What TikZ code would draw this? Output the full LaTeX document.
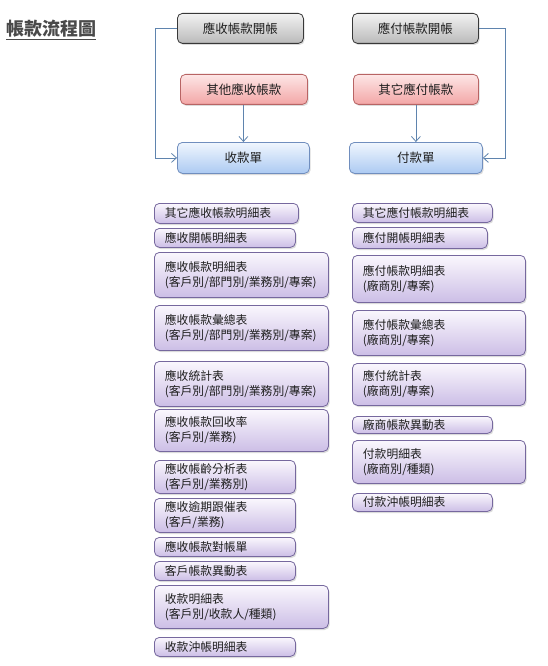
\documentclass[tikz,border=0pt]{standalone}
\usepackage{fontspec}
\setmainfont{Noto Sans CJK TC}
\usetikzlibrary{shadows,arrows.meta}
\definecolor{titlegray}{HTML}{4A4A4A}
\definecolor{linecol}{HTML}{5F84AE}
\definecolor{txt}{HTML}{1E1E1E}
\begin{document}
\begin{tikzpicture}[x=1pt,y=-1pt,
  base/.style={rounded corners=5pt, shading=axis, line width=0.8pt, text=txt,
    drop shadow={opacity=0.28, shadow xshift=1.2pt, shadow yshift=-1.6pt},
    anchor=north west, inner ysep=0pt},
  topbox/.style={base, font=\fontsize{12.5}{15}\selectfont, align=center, inner xsep=0pt},
  graybox/.style={topbox, top color=white!95!black, bottom color=black!27, draw=black!78},
  redbox/.style={topbox, top color={rgb,255:red,253;green,230;blue,230}, bottom color={rgb,255:red,243;green,166;blue,166}, draw={rgb,255:red,184;green,100;blue,100}},
  bluebox/.style={topbox, top color={rgb,255:red,240;green,246;blue,254}, bottom color={rgb,255:red,172;green,202;blue,242}, draw={rgb,255:red,112;green,142;blue,190}},
  listbox/.style={base, font=\fontsize{11.8}{15}\selectfont, align=left, inner xsep=10.5pt,
    top color={rgb,255:red,250;green,247;blue,253}, bottom color={rgb,255:red,204;green,190;blue,230},
    draw={rgb,255:red,118;green,104;blue,158}},
  conn/.style={draw=linecol, line width=0.8pt, -{Straight Barb[length=5pt,width=9pt]}}
]
\useasboundingbox (0,0) rectangle (548,666);
\fill[white] (0,0) rectangle (548,666);

% title
\node[font=\fontsize{18}{20}\selectfont\bfseries, text=titlegray, inner sep=0pt] (title) at (51,30) {\underline{帳款流程圖}};

% top boxes
\node[graybox, minimum width=126pt, minimum height=30pt] (aro) at (177,13) {應收帳款開帳};
\node[graybox, minimum width=126pt, minimum height=30pt] (apo) at (352,13) {應付帳款開帳};
\node[redbox, minimum width=127pt, minimum height=30pt] (aroth) at (180,74) {其他應收帳款};
\node[redbox, minimum width=125pt, minimum height=30pt] (apoth) at (353,74) {其它應付帳款};
\node[bluebox, minimum width=132pt, minimum height=31pt] (recv) at (177,142) {收款單};
\node[bluebox, minimum width=133pt, minimum height=31pt] (pay) at (349,142) {付款單};

\coordinate (lx) at (155,0);
\coordinate (rx) at (505,0);
\draw[conn] (aro.west) -- (aro.west -| lx) |- (recv.west);
\draw[conn] (apo.east) -- (apo.east -| rx) |- (pay.east);
\draw[conn] (aroth.south -| recv.north) -- (recv.north);
\draw[conn] (apoth.south) -- (apoth.south |- pay.north);

% left list
\node[listbox, text width=123pt, minimum height=20pt] (l1) at (154,203) {其它應收帳款明細表};
\node[listbox, text width=120pt, minimum height=19pt] (l2) at (154,228) {應收開帳明細表};
\node[listbox, text width=153pt, minimum height=45pt] (l3) at (154,252) {應收帳款明細表\\(客戶別/部門別/業務別/專案)};
\node[listbox, text width=153pt, minimum height=45pt] (l4) at (154,305) {應收帳款彙總表\\(客戶別/部門別/業務別/專案)};
\node[listbox, text width=153pt, minimum height=45pt] (l5) at (154,361) {應收統計表\\(客戶別/部門別/業務別/專案)};
\node[listbox, text width=153pt, minimum height=42pt] (l6) at (154,409) {應收帳款回收率\\(客戶別/業務)};
\node[listbox, text width=120pt, minimum height=33pt] (l7) at (154,460) {應收帳齡分析表\\(客戶別/業務別)};
\node[listbox, text width=120pt, minimum height=34pt] (l8) at (154,498) {應收逾期跟催表\\(客戶/業務)};
\node[listbox, text width=120pt, minimum height=19pt] (l9) at (154,537) {應收帳款對帳單};
\node[listbox, text width=120pt, minimum height=19pt] (l10) at (154,561) {客戶帳款異動表};
\node[listbox, text width=153pt, minimum height=43pt] (l11) at (154,585) {收款明細表\\(客戶別/收款人/種類)};
\node[listbox, text width=120pt, minimum height=19pt] (l12) at (154,637) {收款沖帳明細表};

% right list
\node[listbox, text width=119pt, minimum height=19pt] (r1) at (352,203) {其它應付帳款明細表};
\node[listbox, text width=114pt, minimum height=21pt] (r2) at (352,227) {應付開帳明細表};
\node[listbox, text width=152pt, minimum height=47pt] (r3) at (352,255) {應付帳款明細表\\(廠商別/專案)};
\node[listbox, text width=152pt, minimum height=45pt] (r4) at (352,310) {應付帳款彙總表\\(廠商別/專案)};
\node[listbox, text width=152pt, minimum height=42pt] (r5) at (352,363) {應付統計表\\(廠商別/專案)};
\node[listbox, text width=119pt, minimum height=17pt] (r6) at (352,416) {廠商帳款異動表};
\node[listbox, text width=152pt, minimum height=43pt] (r7) at (352,440) {付款明細表\\(廠商別/種類)};
\node[listbox, text width=119pt, minimum height=18pt] (r8) at (352,493) {付款沖帳明細表};
\end{tikzpicture}
\end{document}
